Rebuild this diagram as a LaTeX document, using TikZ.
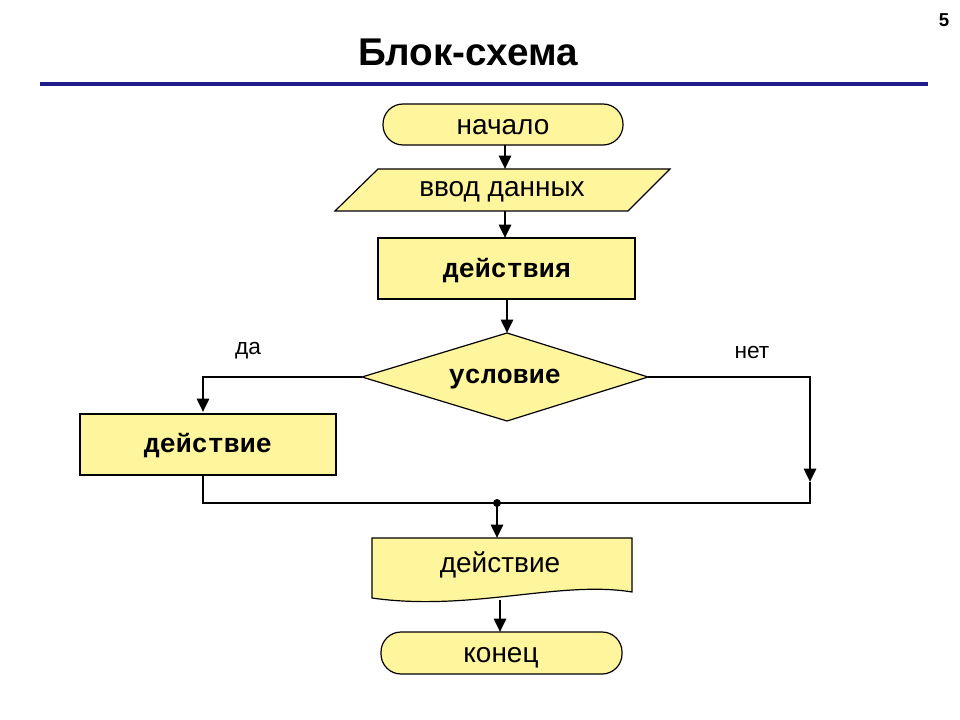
\documentclass[tikz,border=0pt]{standalone}
\usepackage{fontspec}
\setmainfont{Liberation Sans}
\newfontfamily\monof{Liberation Mono}
\usetikzlibrary{arrows.meta,shapes.geometric}
\definecolor{fillY}{HTML}{FFF59D}
\definecolor{lineB}{HTML}{1C1C8A}
\begin{document}
\begin{tikzpicture}[x=0.75pt,y=-0.75pt,
  box/.style={draw=black,fill=fillY,line width=0.9pt},
  conn/.style={line width=2pt},
  arr/.style={conn,-{Triangle[length=10pt,width=9pt]}},
  txt/.style={font=\fontsize{21}{24}\selectfont},
  mtxt/.style={font=\monof\bfseries\fontsize{20}{22}\selectfont},
  lbl/.style={font=\fontsize{17}{19}\selectfont}]
\useasboundingbox (0,0) rectangle (960,720);
\fill[white] (0,0) rectangle (960,720);
\node[font=\bfseries\fontsize{29}{32}\selectfont] (title) at (468,52) {Блок-схема};
\node[font=\bfseries\fontsize{14}{16}\selectfont] (num) at (944,20) {5};
\draw[lineB,line width=3pt] (40,84) -- (928,84);
% start
\draw[box,rounded corners=15pt] (383,104) rectangle (623,145);
\node[txt] (start) at (503,127) {начало};
% input
\draw[box] (335,211) -- (378,169) -- (670,169) -- (628,211) -- cycle;
\node[txt] (inp) at (502,192) {ввод данных};
% actions
\draw[box] (378,238) rectangle (635,299);
\node[mtxt] (act) at (507,271) {действия};
% diamond
\draw[box] (362,377) -- (507,333) -- (648,377) -- (507,421) -- cycle;
\node[mtxt] (cond) at (505,379) {условие};
% left action
\draw[box] (80,414) rectangle (336,475);
\node[mtxt] (left) at (208,446) {действие};
% document
\draw[box] (372,538) -- (632,538) -- (632,592) .. controls (560,580) and (470,612) .. (372,598) -- cycle;
\node[txt] (doc) at (500,565) {действие};
% end
\draw[box,rounded corners=15pt] (381,632) rectangle (622,674);
\node[txt] (fin) at (501,658) {конец};
% labels
\node[lbl] (yes) at (248,351) {да};
\node[lbl] (no) at (752,353) {нет};
% connectors
\coordinate (c1) at (505,145); \coordinate (c2) at (505,169);
\coordinate (c3) at (505,211); \coordinate (c4) at (505,238);
\coordinate (c5) at (507,299); \coordinate (c6) at (507,333);
\coordinate (dl) at (362,377); \coordinate (dr) at (648,377);
\coordinate (lt) at (203,412); \coordinate (rb) at (810,482);
\coordinate (lb) at (203,475); \coordinate (jn) at (497,503);
\coordinate (dt) at (497,538); \coordinate (db) at (500,600);
\coordinate (et) at (500,632);
\draw[arr] (c1) -- (c2);
\draw[arr] (c3) -- (c4);
\draw[arr] (c5) -- (c6);
\draw[arr] (dl) -- (203,377) -- (lt);
\draw[arr] (dr) -- (810,377) -- (rb);
\draw[conn] (lb) -- (203,503) -- (810,503) -- (810,482);
\fill (jn) circle (4);
\draw[arr] (jn) -- (dt);
\draw[arr] (db) -- (et);
\end{tikzpicture}
\end{document}
